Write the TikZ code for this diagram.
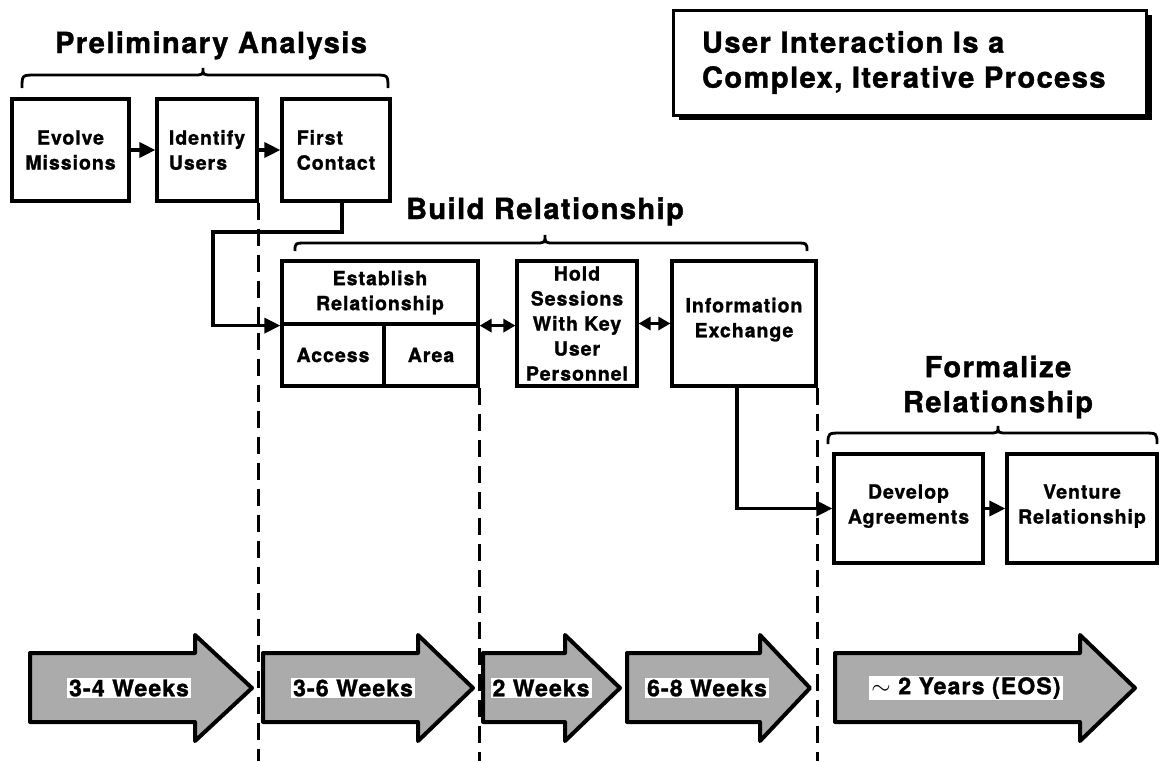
\documentclass[tikz,border=0pt]{standalone}
\usepackage{fontspec}
\setmainfont{TeX Gyre Heros}[LetterSpace=5, BoldFeatures={FakeBold=1.3}]
\usetikzlibrary{arrows.meta,shadows}
\newcommand\ttlfont{\bfseries\fontsize{29}{35}\selectfont}
\newcommand\bxfont{\bfseries\fontsize{19.5}{25}\selectfont}
\newcommand\arfont{\bfseries\fontsize{23}{26}\selectfont}
\newcommand\dropby[1]{\rule[-#1]{0pt}{0pt}}
\tikzset{
  box/.style={draw, line width=3.2pt, inner sep=0pt, align=center, font=\bxfont},
  conn/.style={line width=3.4pt, -{Triangle[length=16pt,width=15pt]}},
  dbl/.style={line width=3.4pt, {Triangle[length=12pt,width=13pt]}-{Triangle[length=12pt,width=13pt]}},
  vdash/.style={line width=2.8pt, dash pattern=on 17pt off 9pt},
  bigarrow/.style={draw, line width=4pt, fill=black!33, line join=round},
  alabel/.style={fill=white, inner xsep=2pt, inner ysep=1.5pt, font=\arfont},
  brc/.style={line width=2.8pt},
  ttl/.style={font=\ttlfont, inner sep=0pt, align=center},
}
\begin{document}
\begin{tikzpicture}[x=1pt,y=-1pt]
\useasboundingbox (0,0) rectangle (1160,761);
\coordinate (bottomline) at (0,761);

% title box
\node[draw, line width=3pt, fill=white, minimum width=473pt, minimum height=105pt,
      text width=415pt, inner xsep=29pt, align=left, font=\ttlfont,
      drop shadow={shadow xshift=6pt, shadow yshift=-5pt, fill=black, opacity=1}]
  (title) at (909.5,62.5) {\fontsize{29}{39}\selectfont User Interaction Is a\\Complex, Iterative Process};

% group titles
\node[ttl, anchor=base] (tprelim) at (211,53) {Preliminary Analysis};
\node[ttl, anchor=base] (tbuild) at (545,219) {Build Relationship};
\node[ttl] (tformal) at (998,387) {Formalize\\Relationship};

% braces
\draw[brc] (22,88) .. controls (22,75) .. (36,75) -- (193,75) .. controls (203,75) .. (203,68)
  .. controls (203,75) .. (213,75) -- (374,75) .. controls (388,75) .. (388,88);
\draw[brc] (295,251) .. controls (295,243) .. (307,243) -- (535,243) .. controls (545,243) .. (545,235)
  .. controls (545,243) .. (555,243) -- (795,243) .. controls (807,243) .. (807,251);
\draw[brc] (828,444) .. controls (828,433) .. (842,433) -- (988,433) .. controls (998,433) .. (998,426)
  .. controls (998,433) .. (1008,433) -- (1143,433) .. controls (1157,433) .. (1157,444);

% row 1
\node[box, minimum width=117pt, minimum height=102pt] (evolve) at (70.5,150) {Evolve\\Missions};
\node[box, minimum width=100pt, minimum height=102pt, align=left] (identify) at (207,150) {Identify\\Users};
\node[box, minimum width=108pt, minimum height=102pt, align=left] (first) at (336,150) {First\\Contact};

% row 2
\node[box, minimum width=196pt, minimum height=63pt] (estabT) at (380,292.5) {Establish\\Relationship};
\node[box, minimum width=102pt, minimum height=62pt] (access) at (333,355) {Access};
\node[box, minimum width=94pt, minimum height=62pt] (area) at (431,355) {Area};
\node[box, minimum width=120pt, minimum height=125pt] (hold) at (577,323.5) {Hold\\Sessions\\With Key\\User\\Personnel};
\node[box, minimum width=144pt, minimum height=125pt] (info) at (744,323.5) {Information\\Exchange\dropby{12pt}};

% row 3
\node[box, minimum width=149pt, minimum height=109pt] (develop) at (908.5,508.5) {Develop\\Agreements\dropby{9pt}};
\node[box, minimum width=150pt, minimum height=109pt] (venture) at (1082,508.5) {Venture\\Relationship\dropby{9pt}};

% dashed separators
\draw[vdash] (identify.south east) -- (identify.south east |- bottomline);
\draw[vdash] (area.south east) -- (area.south east |- bottomline);
\draw[vdash] (info.south east) -- (info.south east |- bottomline);

% connectors
\coordinate (c1) at (213,232);
\draw[conn] (evolve.east) -- (identify.west);
\draw[conn] (identify.east) -- (first.west);
\draw[conn] ([xshift=6pt]first.south) |- (c1) |- (estabT.south west);
\draw[dbl] (estabT.south east) -- (estabT.south east -| hold.west);
\draw[dbl] (hold.east) -- (info.west);
\draw[conn] ([xshift=-7pt]info.south) |- (develop.west);
\draw[conn] (develop.east) -- (venture.west);

% time arrows
\foreach \a/\b/\c in {30/195/252, 263/418/473, 483/565/620, 627/760/810, 835/1080/1135}
  \draw[bigarrow] (\a,653) -- (\b,653) -- (\b,635) -- (\c,688) -- (\b,741) -- (\b,722) -- (\a,722) -- cycle;
\node[alabel] (w1) at (129,688) {3-4 Weeks};
\node[alabel] (w2) at (353,688) {3-6 Weeks};
\node[alabel] (w3) at (541,688) {2 Weeks};
\node[alabel] (w4) at (707,688) {6-8 Weeks};
\node[alabel] (w5) at (966,688) {$\sim$ 2 Years (EOS)};
\end{tikzpicture}
\end{document}
